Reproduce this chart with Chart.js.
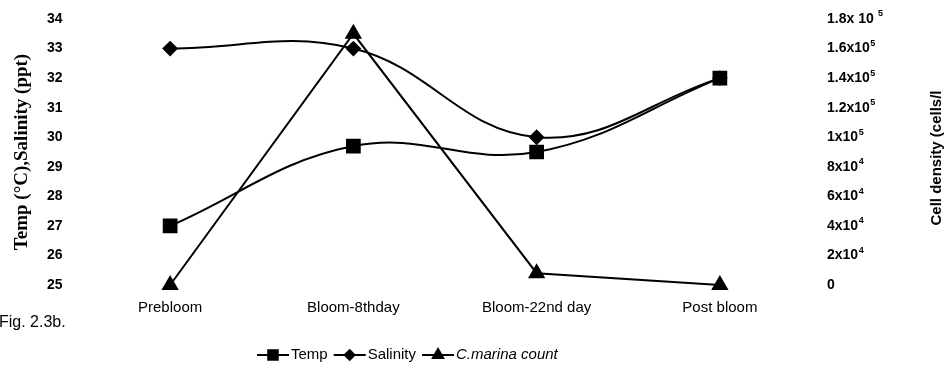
<!DOCTYPE html>
<html>
<head>
<meta charset="utf-8">
<script src="https://cdn.jsdelivr.net/npm/chart.js@4.4.1/dist/chart.umd.min.js"></script>
<style>
  html, body { margin: 0; padding: 0; background: #fff; }
  #wrap { position: relative; width: 950px; height: 371px; }
</style>
</head>
<body>
<div id="wrap"><canvas id="bloomChart" width="950" height="371"></canvas></div>
<script>
// sampling stages
const stages = ['Prebloom', 'Bloom-8thday', 'Bloom-22nd day', 'Post bloom'];
// left axis series
const temp = [27, 29.7, 29.5, 32];
const salinity = [33, 33, 30, 32];
// right axis series (cells/l)
const marinaCount = [0, 170000, 8000, 0];
// right axis tick labels, 0 .. 1.8x10^5 in steps of 2x10^4 (base text + exponent)
const cellTickBase = ['0', '2x10', '4x10', '6x10', '8x10', '1x10', '1.2x10', '1.4x10', '1.6x10', '1.8x 10 '];
const cellTickExp = ['', '4', '4', '4', '4', '5', '5', '5', '5', '5'];

const SANS = '"Liberation Sans", Arial, sans-serif';
const tickFont = { family: SANS, size: 14, weight: 'bold' };

// right tick labels with raised exponents, legend, side texts
const extras = {
  id: 'extras',
  afterDraw(chart) {
    const ctx = chart.ctx;
    ctx.save();
    ctx.fillStyle = '#000';
    ctx.textAlign = 'left';
    ctx.textBaseline = 'middle';

    // right axis labels placed by the y1 scale
    const y1 = chart.scales.y1;
    y1.ticks.forEach((t, i) => {
      const y = y1.getPixelForValue(t.value);
      ctx.font = 'bold 14px ' + SANS;
      ctx.fillText(cellTickBase[i], 827, y);
      const w = ctx.measureText(cellTickBase[i]).width;
      if (cellTickExp[i]) {
        ctx.font = 'bold 9px ' + SANS;
        ctx.fillText(cellTickExp[i], 827 + w + 0.5, y - 5);
      }
    });

    // right axis title, reading bottom to top
    ctx.font = 'bold 15px ' + SANS;
    ctx.translate(937, 158);
    ctx.rotate(-Math.PI / 2);
    ctx.textAlign = 'center';
    ctx.fillText('Cell density (cells/l', 0, 0);
    ctx.setTransform(1, 0, 0, 1, 0, 0);

    // figure number
    ctx.font = '16px ' + SANS;
    ctx.textAlign = 'left';
    ctx.fillText('Fig. 2.3b.', -1, 323);

    // legend
    let x = 257;
    const y = 355;
    chart.data.datasets.forEach(ds => {
      ctx.strokeStyle = '#000';
      ctx.lineWidth = 2;
      ctx.beginPath();
      ctx.moveTo(x, y);
      ctx.lineTo(x + 32, y);
      ctx.stroke();
      Chart.helpers.drawPoint(ctx, {
        pointStyle: ds.pointStyle,
        radius: ds.pointRadius * 0.75,
        rotation: 0,
        borderWidth: 1
      }, x + 16, y);
      ctx.fill();
      ctx.font = (ds.italicLabel ? 'italic ' : '') + '15px ' + SANS;
      ctx.fillText(ds.label, x + 34, y);
      x += 34 + ctx.measureText(ds.label).width + 6;
    });
    ctx.restore();
  }
};

const lineStyle = {
  borderColor: '#000',
  backgroundColor: '#000',
  borderWidth: 2,
  clip: false
};

new Chart(document.getElementById('bloomChart'), {
  type: 'line',
  data: {
    labels: stages,
    datasets: [
      Object.assign({
        label: 'Temp',
        data: temp,
        yAxisID: 'y',
        tension: 0.4,
        pointStyle: 'rect',
        pointRadius: 9
      }, lineStyle),
      Object.assign({
        label: 'Salinity',
        data: salinity,
        yAxisID: 'y',
        tension: 0.4,
        pointStyle: 'rectRot',
        pointRadius: 6.5
      }, lineStyle),
      Object.assign({
        label: 'C.marina count',
        italicLabel: true,
        data: marinaCount,
        yAxisID: 'y1',
        tension: 0,
        pointStyle: 'triangle',
        pointRadius: 8
      }, lineStyle)
    ]
  },
  options: {
    responsive: false,
    animation: false,
    layout: { padding: { top: 19, bottom: 0, left: 0, right: 0 } },
    plugins: {
      legend: { display: false },
      tooltip: { enabled: false }
    },
    scales: {
      x: {
        offset: true,
        grid: { display: false },
        border: { display: false },
        ticks: {
          color: '#000',
          padding: 6,
          maxRotation: 0,
          font: { family: SANS, size: 15 }
        },
        afterFit(scale) { scale.height = 86; }
      },
      y: {
        position: 'left',
        min: 25,
        max: 34,
        grid: { display: false },
        border: { display: false },
        ticks: { stepSize: 1, color: '#000', padding: 8, font: tickFont },
        title: {
          display: true,
          text: 'Temp (°C),Salinity (ppt)',
          color: '#000',
          padding: { top: 11, bottom: 0 },
          font: { family: '"Liberation Serif", "Times New Roman", serif', size: 19, weight: 'bold' }
        },
        afterFit(scale) { scale.width = 78.5; }
      },
      y1: {
        position: 'right',
        min: 0,
        max: 180000,
        grid: { display: false },
        border: { display: false },
        ticks: { stepSize: 20000, display: false },
        afterFit(scale) { scale.width = 138.5; }
      }
    }
  },
  plugins: [extras]
});
</script>
</body>
</html>
